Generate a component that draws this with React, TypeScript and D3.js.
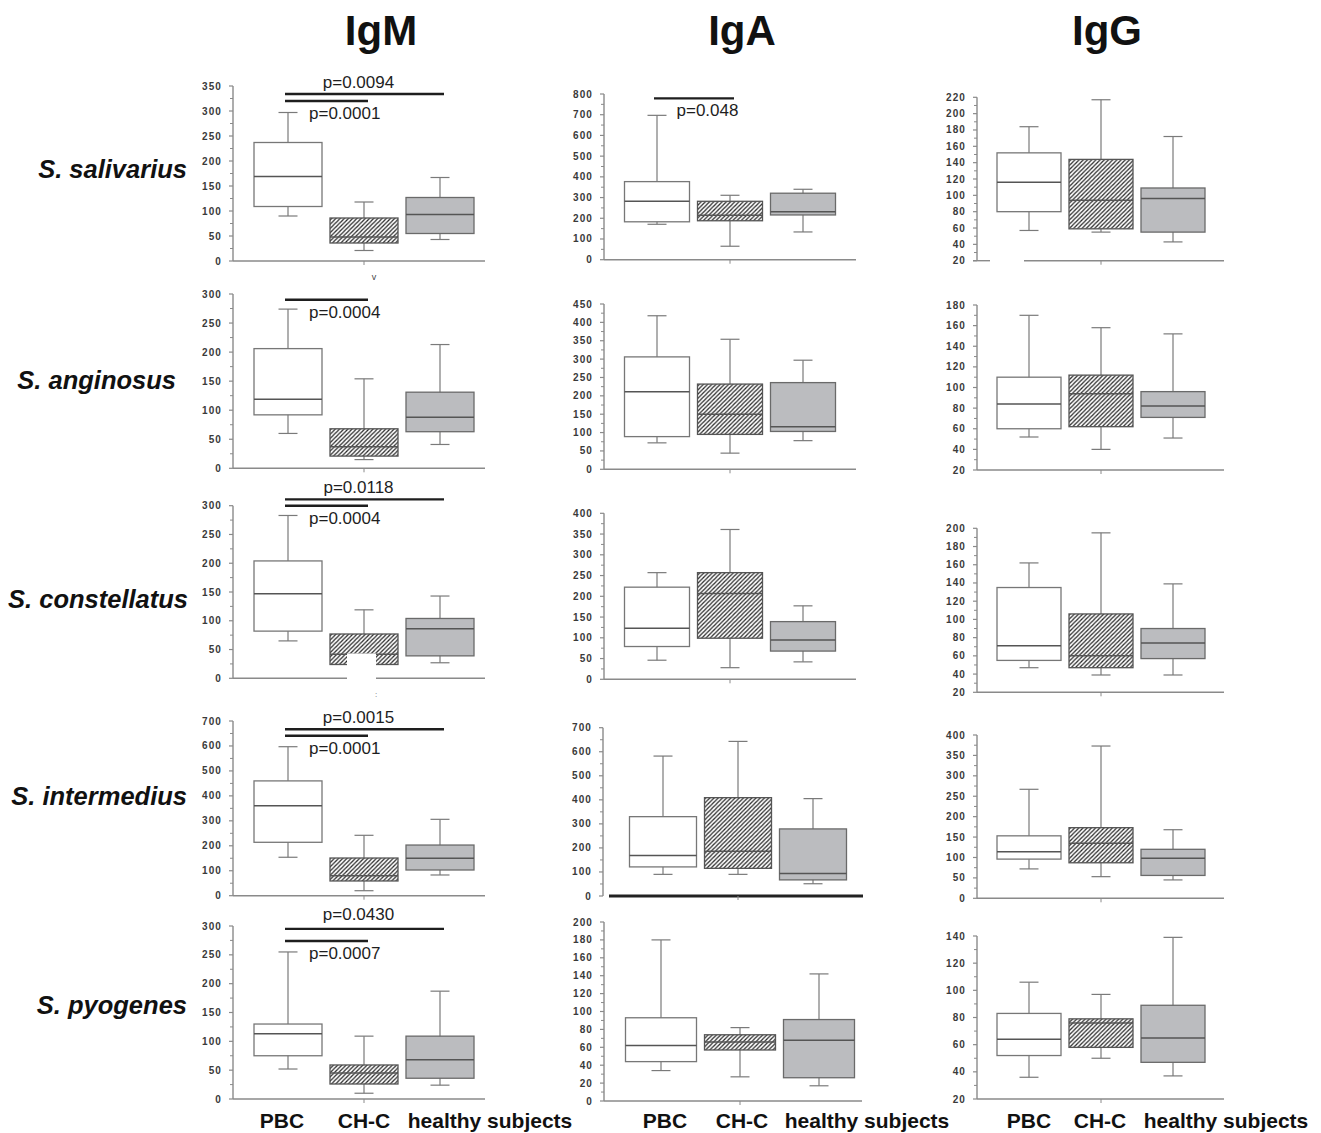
import React from "react";
import * as d3 from "d3";

const isotypes = ["IgM", "IgA", "IgG"];
const species = ["S. salivarius", "S. anginosus", "S. constellatus", "S. intermedius", "S. pyogenes"];
const groups = ["PBC", "CH-C", "healthy subjects"];

// each box: [min, q1, median, q3, max]; order PBC, CH-C, healthy subjects
const igmSalivarius = [[90, 109, 169, 237, 297], [21, 36, 48, 86, 118], [43, 55, 93, 127, 167]];
const igaSalivarius = [[171, 183, 282, 377, 697], [65, 188, 215, 282, 311], [134, 216, 232, 321, 340]];
const iggSalivarius = [[57, 80, 116, 152, 184], [55, 59, 94, 144, 217], [43, 55, 96, 109, 172]];

const igmAnginosus = [[60, 92, 119, 206, 274], [15, 21, 37, 68, 154], [41, 63, 88, 131, 213]];
const igaAnginosus = [[72, 89, 211, 306, 418], [44, 95, 150, 232, 354], [78, 103, 116, 236, 297]];
const iggAnginosus = [[52, 60, 84, 110, 170], [40, 62, 94, 112, 158], [51, 71, 82, 96, 152]];

const igmConstellatus = [[65, 82, 147, 204, 283], [12, 24, 42, 77, 119], [27, 39, 86, 104, 143]];
const igaConstellatus = [[46, 79, 123, 222, 257], [28, 99, 207, 257, 361], [42, 68, 95, 139, 177]];
const iggConstellatus = [[47, 55, 71, 135, 162], [39, 47, 60, 106, 195], [39, 57, 74, 90, 139]];

const igmIntermedius = [[154, 214, 360, 460, 597], [20, 59, 80, 151, 242], [83, 103, 150, 203, 306]];
const igaIntermedius = [[90, 121, 168, 330, 582], [90, 115, 186, 409, 643], [51, 67, 94, 279, 405]];
const iggIntermedius = [[72, 96, 114, 153, 267], [53, 87, 135, 173, 373], [45, 56, 98, 120, 168]];

const igmPyogenes = [[52, 75, 113, 130, 255], [10, 26, 45, 59, 109], [24, 36, 68, 109, 187]];
const igaPyogenes = [[34, 44, 62, 93, 180], [27, 57, 66, 74, 82], [17, 26, 68, 91, 142]];
const iggPyogenes = [[36, 52, 64, 83, 106], [50, 58, 76, 79, 97], [37, 47, 65, 89, 139]];

// y-axis tick labels
const igmSalivariusTicks = [0, 50, 100, 150, 200, 250, 300, 350];
const igaSalivariusTicks = [0, 100, 200, 300, 400, 500, 600, 700, 800];
const iggSalivariusTicks = [20, 40, 60, 80, 100, 120, 140, 160, 180, 200, 220];
const igmAnginosusTicks = [0, 50, 100, 150, 200, 250, 300];
const igaAnginosusTicks = [0, 50, 100, 150, 200, 250, 300, 350, 400, 450];
const iggAnginosusTicks = [20, 40, 60, 80, 100, 120, 140, 160, 180];
const igmConstellatusTicks = [0, 50, 100, 150, 200, 250, 300];
const igaConstellatusTicks = [0, 50, 100, 150, 200, 250, 300, 350, 400];
const iggConstellatusTicks = [20, 40, 60, 80, 100, 120, 140, 160, 180, 200];
const igmIntermediusTicks = [0, 100, 200, 300, 400, 500, 600, 700];
const igaIntermediusTicks = [0, 100, 200, 300, 400, 500, 600, 700];
const iggIntermediusTicks = [0, 50, 100, 150, 200, 250, 300, 350, 400];
const igmPyogenesTicks = [0, 50, 100, 150, 200, 250, 300];
const igaPyogenesTicks = [0, 20, 40, 60, 80, 100, 120, 140, 160, 180, 200];
const iggPyogenesTicks = [20, 40, 60, 80, 100, 120, 140];

// significance brackets: level in data units of that panel
const pValues = [
  { row: 0, col: 0, from: 0, to: 2, level: 334, label: "p=0.0094", pos: "above" },
  { row: 0, col: 0, from: 0, to: 1, level: 320, label: "p=0.0001", pos: "below" },
  { row: 0, col: 1, from: 0, to: 1, level: 779, label: "p=0.048", pos: "below" },
  { row: 1, col: 0, from: 0, to: 1, level: 290, label: "p=0.0004", pos: "below" },
  { row: 2, col: 0, from: 0, to: 2, level: 311, label: "p=0.0118", pos: "above" },
  { row: 2, col: 0, from: 0, to: 1, level: 300, label: "p=0.0004", pos: "below" },
  { row: 3, col: 0, from: 0, to: 2, level: 667, label: "p=0.0015", pos: "above" },
  { row: 3, col: 0, from: 0, to: 1, level: 641, label: "p=0.0001", pos: "below" },
  { row: 4, col: 0, from: 0, to: 2, level: 295, label: "p=0.0430", pos: "above" },
  { row: 4, col: 0, from: 0, to: 1, level: 274, label: "p=0.0007", pos: "below" },
];

const panelStats = [
  [igmSalivarius, igaSalivarius, iggSalivarius],
  [igmAnginosus, igaAnginosus, iggAnginosus],
  [igmConstellatus, igaConstellatus, iggConstellatus],
  [igmIntermedius, igaIntermedius, iggIntermedius],
  [igmPyogenes, igaPyogenes, iggPyogenes],
];
const panelTicks = [
  [igmSalivariusTicks, igaSalivariusTicks, iggSalivariusTicks],
  [igmAnginosusTicks, igaAnginosusTicks, iggAnginosusTicks],
  [igmConstellatusTicks, igaConstellatusTicks, iggConstellatusTicks],
  [igmIntermediusTicks, igaIntermediusTicks, iggIntermediusTicks],
  [igmPyogenesTicks, igaPyogenesTicks, iggPyogenesTicks],
];

// ---------- layout ----------
const W = 1321;
const H = 1133;
const colAxisX = [233, 604, 977];
const colAxisEnd = [485, 856, 1224];
const colBoxOffsets = [[55, 131, 207], [53, 126, 199], [52, 123, 196]];
const colBoxWidth = [68, 65, 64];
const rowYRange = [
  [[261, 86], [259.7, 94], [260.7, 97.3]],
  [[468.3, 294], [469.3, 304], [470, 305]],
  [[678.3, 505.7], [679.3, 513.3], [692.3, 528.3]],
  [[895.7, 721], [896, 727.7], [898.3, 735]],
  [[1099, 926], [1101, 922], [1099, 936]],
];
const titleX = [381, 742, 1107];
const rowLabelRight = [187, 176, 188, 187, 187];
const rowLabelBaseline = [178, 389, 608, 805, 1014];
const bottomLabelX = [[282, 364, 490], [665, 742, 867], [1029, 1100, 1226]];

function panelLayout(r: number, c: number) {
  let axisX = colAxisX[c];
  let axisEnd = colAxisEnd[c];
  let offsets = colBoxOffsets[c];
  let bw = colBoxWidth[c];
  let thickAxis = false;
  let brokenAxis = false;
  if (r === 3 && c === 1) {
    axisX = 603; axisEnd = 863; offsets = [60, 135, 210]; bw = 67; thickAxis = true;
  }
  if (r === 4 && c === 1) {
    offsets = [57, 137, 215]; bw = 71; axisEnd = 862;
  }
  if (r === 0 && c === 2) brokenAxis = true;
  return { axisX, axisEnd, offsets, bw, thickAxis, brokenAxis };
}

const AXIS = "#8a8a8a";
const WHISKER = "#7a7a7a";
const TICKFONT = "'Liberation Sans', Arial, Helvetica, sans-serif";

function Panel({ r, c }: { r: number; c: number }) {
  const stats = panelStats[r][c];
  const ticks = panelTicks[r][c];
  const [yb, yt] = rowYRange[r][c];
  const L = panelLayout(r, c);
  const y = d3.scaleLinear().domain([ticks[0], ticks[ticks.length - 1]]).range([yb, yt]);
  const x = d3.scalePoint<number>().domain([0, 1, 2]).range([L.axisX + L.offsets[0], L.axisX + L.offsets[2]]);
  const minor = ticks.slice(0, -1).map((t, i) => (t + ticks[i + 1]) / 2);
  const cap = 19;
  const midX = x(1)!;
  const brackets = pValues.filter((p) => p.row === r && p.col === c);
  return (
    <g>
      {/* y axis */}
      <line x1={L.axisX} x2={L.axisX} y1={y(ticks[0])} y2={y(ticks[ticks.length - 1])} stroke={AXIS} strokeWidth={1.4} />
      {ticks.map((t) => (
        <g key={"t" + t}>
          <line x1={L.axisX - 4} x2={L.axisX} y1={y(t)} y2={y(t)} stroke={AXIS} strokeWidth={1.2} />
          <text x={L.axisX - 11} y={y(t)} dy="0.35em" textAnchor="end" fontSize={10} fontWeight="bold"
            letterSpacing={1.1} fill="#3a3a3a" fontFamily={TICKFONT}>{t}</text>
        </g>
      ))}
      {minor.map((t) => (
        <line key={"m" + t} x1={L.axisX - 3} x2={L.axisX} y1={y(t)} y2={y(t)} stroke={AXIS} strokeWidth={1} />
      ))}
      {/* x axis */}
      {L.brokenAxis ? (
        <g>
          <line x1={L.axisX - 4} x2={L.axisX + 13} y1={yb} y2={yb} stroke={AXIS} strokeWidth={1.4} />
          <line x1={L.axisX + 47} x2={L.axisEnd} y1={yb} y2={yb} stroke={AXIS} strokeWidth={1.4} />
        </g>
      ) : L.thickAxis ? (
        <line x1={L.axisX + 6} x2={L.axisEnd} y1={yb} y2={yb} stroke="#222" strokeWidth={3} />
      ) : (
        <line x1={L.axisX} x2={L.axisEnd} y1={yb} y2={yb} stroke={AXIS} strokeWidth={1.4} />
      )}
      <line x1={midX} x2={midX} y1={yb} y2={yb + 4} stroke={AXIS} strokeWidth={1} />
      {/* boxes */}
      {stats.map((s, i) => {
        const cx = x(i)!;
        const [mn, q1, md, q3, mx] = s;
        const fill = i === 0 ? "#ffffff" : i === 1 ? "url(#hatch)" : "#bbbcbf";
        const stroke = i === 0 ? "#777" : i === 1 ? "#555" : "#6a6a6a";
        return (
          <g key={"b" + i}>
            <line x1={cx} x2={cx} y1={y(mn)} y2={y(mx)} stroke={WHISKER} strokeWidth={1.2} />
            <line x1={cx - cap / 2} x2={cx + cap / 2} y1={y(mn)} y2={y(mn)} stroke={WHISKER} strokeWidth={1.2} />
            <line x1={cx - cap / 2} x2={cx + cap / 2} y1={y(mx)} y2={y(mx)} stroke={WHISKER} strokeWidth={1.2} />
            <rect x={cx - L.bw / 2} width={L.bw} y={y(q3)} height={y(q1) - y(q3)} fill={fill} stroke={stroke} strokeWidth={1.3} />
            <line x1={cx - L.bw / 2} x2={cx + L.bw / 2} y1={y(md)} y2={y(md)} stroke="#555" strokeWidth={1.5} />
          </g>
        );
      })}
      {/* significance brackets */}
      {brackets.map((p, k) => {
        const x1 = x(p.from)! - 3;
        const x2 = x(p.to)! + 4;
        const yy = y(p.level);
        const tx = p.pos === "above" ? (x1 + x2) / 2 - 6 : x(p.from)! + L.bw / 2 - 13;
        const ty = p.pos === "above" ? yy - (r === 4 ? 9 : 6) : yy + 18;
        return (
          <g key={"p" + k}>
            <line x1={x1} x2={x2} y1={yy} y2={yy} stroke="#1e1e1e" strokeWidth={2.4} />
            <text x={tx} y={ty} textAnchor={p.pos === "above" ? "middle" : "start"} fontSize={17}
              fill="#1e1e1e" fontFamily={TICKFONT}>{p.label}</text>
          </g>
        );
      })}
    </g>
  );
}

export default function App() {
  return (
    <svg width={W} height={H} style={{ position: "absolute", left: 0, top: 0, background: "#fff" }}
      fontFamily="'Liberation Sans', Arial, Helvetica, sans-serif">
      <defs>
        <pattern id="hatch" patternUnits="userSpaceOnUse" width={4.2} height={4.2}>
          <rect width={4.2} height={4.2} fill="#fff" />
          <path d="M-1,1.05 L1.05,-1 M0,4.2 L4.2,0 M3.15,5.2 L5.2,3.15" stroke="#2b2b2b" strokeWidth={1.25} />
        </pattern>
      </defs>
      <rect width={W} height={H} fill="#fff" />
      {isotypes.map((t, c) => (
        <text key={t} x={titleX[c]} y={45} textAnchor="middle" fontSize={42} fontWeight="bold" fill="#111">{t}</text>
      ))}
      {species.map((s, r) => (
        <text key={s} x={rowLabelRight[r]} y={rowLabelBaseline[r]} textAnchor="end" fontSize={25.5}
          fontWeight="bold" fontStyle="italic" fill="#111">{s}</text>
      ))}
      {species.map((_, r) => isotypes.map((__, c) => <Panel key={r + "-" + c} r={r} c={c} />))}
      {isotypes.map((_, c) => groups.map((g, i) => (
        <text key={c + g} x={bottomLabelX[c][i]} y={1128} textAnchor="middle" fontSize={21} fontWeight="bold" fill="#111">{g}</text>
      )))}
      {/* scan artefacts visible in the original figure */}
      <rect x={347} y={653.5} width={29} height={48} fill="#fff" />
      <text x={374} y={280} fontSize={9} fill="#444" textAnchor="middle">v</text>
      <text x={376} y={697} fontSize={8} fill="#666" textAnchor="middle">:</text>
    </svg>
  );
}
